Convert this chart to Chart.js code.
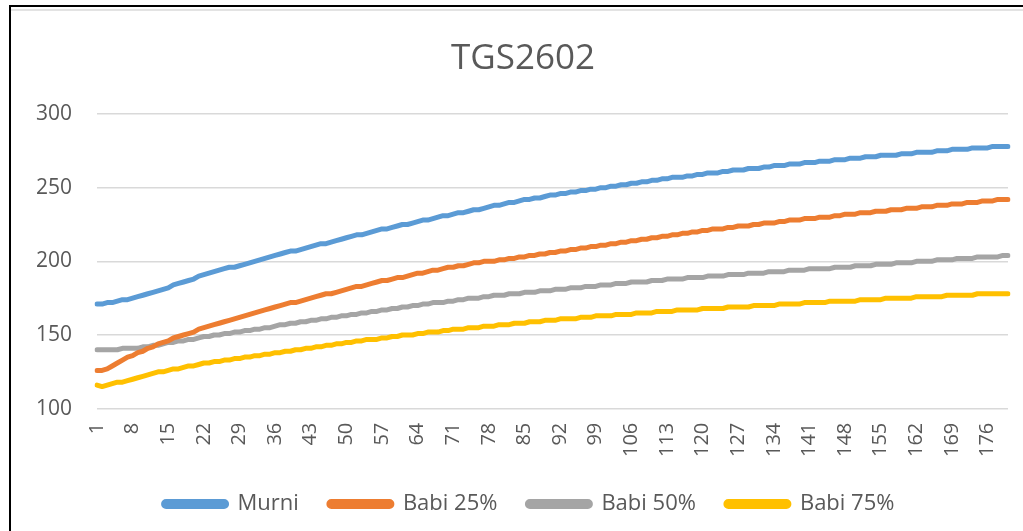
<!DOCTYPE html>
<html>
<head>
<meta charset="utf-8">
<script src="https://cdn.jsdelivr.net/npm/chart.js@4"></script>
<style>
  html, body { margin: 0; padding: 0; background: #fff; }
  #wrap { position: relative; width: 1023px; height: 531px; }
  #frame { position: absolute; left: 9px; top: 5px; right: 0; bottom: 0; border-left: 2px solid #000; border-top: 2px solid #000; pointer-events: none; }
  #frameIn { position: absolute; left: 11px; top: 9px; right: 0; height: 0; border-top: 2px solid #e3e3e3; pointer-events: none; }
</style>
</head>
<body>
<div id="wrap">
  <canvas id="tgsChart" width="1023" height="531"></canvas>
  <div id="frame"></div>
  <div id="frameIn"></div>
</div>
<script>
// Data (180 readings per sample)
const seriesNames = ['Murni', 'Babi 25%', 'Babi 50%', 'Babi 75%'];

const murni = [
  171,171,172,172,173,174,174,175,
  176,177,178,179,180,181,182,
  184,185,186,187,188,190,191,
  192,193,194,195,196,196,197,
  198,199,200,201,202,203,204,
  205,206,207,207,208,209,210,
  211,212,212,213,214,215,216,
  217,218,218,219,220,221,222,
  222,223,224,225,225,226,227,
  228,228,229,230,231,231,232,
  233,233,234,235,235,236,237,
  238,238,239,240,240,241,242,
  242,243,243,244,245,245,246,
  246,247,247,248,248,249,249,
  250,250,251,251,252,252,253,
  253,254,254,255,255,256,256,
  257,257,257,258,258,259,259,
  260,260,260,261,261,262,262,
  262,263,263,263,264,264,265,
  265,265,266,266,266,267,267,
  267,268,268,268,269,269,269,
  270,270,270,271,271,271,272,
  272,272,272,273,273,273,274,
  274,274,274,275,275,275,276,
  276,276,276,277,277,277,277,
  278,278,278,278
];

const babi25 = [
  126,126,127,129,131,133,135,136,
  138,139,141,142,144,145,146,
  148,149,150,151,152,154,155,
  156,157,158,159,160,161,162,
  163,164,165,166,167,168,169,
  170,171,172,172,173,174,175,
  176,177,178,178,179,180,181,
  182,183,183,184,185,186,187,
  187,188,189,189,190,191,192,
  192,193,194,194,195,196,196,
  197,197,198,199,199,200,200,
  200,201,201,202,202,203,203,
  204,204,205,205,206,206,207,
  207,208,208,209,209,210,210,
  211,211,212,212,213,213,214,
  214,215,215,216,216,217,217,
  218,218,219,219,220,220,221,
  221,222,222,222,223,223,224,
  224,224,225,225,226,226,226,
  227,227,228,228,228,229,229,
  229,230,230,230,231,231,232,
  232,232,233,233,233,234,234,
  234,235,235,235,236,236,236,
  237,237,237,238,238,238,239,
  239,239,240,240,240,241,241,
  241,242,242,242
];

const babi50 = [
  140,140,140,140,140,141,141,141,
  141,142,142,143,143,144,145,
  145,146,146,147,147,148,149,
  149,150,150,151,151,152,152,
  153,153,154,154,155,155,156,
  157,157,158,158,159,159,160,
  160,161,161,162,162,163,163,
  164,164,165,165,166,166,167,
  167,168,168,169,169,170,170,
  171,171,172,172,172,173,173,
  174,174,175,175,175,176,176,
  177,177,177,178,178,178,179,
  179,179,180,180,180,181,181,
  181,182,182,182,183,183,183,
  184,184,184,185,185,185,186,
  186,186,186,187,187,187,188,
  188,188,188,189,189,189,189,
  190,190,190,190,191,191,191,
  191,192,192,192,192,193,193,
  193,193,194,194,194,194,195,
  195,195,195,195,196,196,196,
  196,197,197,197,197,198,198,
  198,198,199,199,199,199,200,
  200,200,200,201,201,201,201,
  202,202,202,202,203,203,203,
  203,203,204,204
];

const babi75 = [
  116,115,116,117,118,118,119,120,
  121,122,123,124,125,125,126,
  127,127,128,129,129,130,131,
  131,132,132,133,133,134,134,
  135,135,136,136,137,137,138,
  138,139,139,140,140,141,141,
  142,142,143,143,144,144,145,
  145,146,146,147,147,147,148,
  148,149,149,150,150,150,151,
  151,152,152,152,153,153,154,
  154,154,155,155,155,156,156,
  156,157,157,157,158,158,158,
  159,159,159,160,160,160,161,
  161,161,161,162,162,162,163,
  163,163,163,164,164,164,164,
  165,165,165,165,166,166,166,
  166,167,167,167,167,167,168,
  168,168,168,168,169,169,169,
  169,169,170,170,170,170,170,
  171,171,171,171,171,172,172,
  172,172,172,173,173,173,173,
  173,173,174,174,174,174,174,
  175,175,175,175,175,175,176,
  176,176,176,176,176,177,177,
  177,177,177,177,178,178,178,
  178,178,178,178
];

// x categories 1..180, only every 7th one is labelled
const categories = murni.map((v, i) => String(i + 1));
const labelStep = 7;

const yMin = 100;
const yMax = 300;
const yStep = 50;

const colors = ['#5B9BD5', '#ED7D31', '#A5A5A5', '#FFC000'];
const textColor = '#595959';
const fontFamily = "'Open Sans', 'Liberation Sans', sans-serif";

const allSeries = [murni, babi25, babi50, babi75];

const datasets = allSeries.map((values, i) => ({
    label: seriesNames[i],
    data: values,
    borderColor: colors[i],
    backgroundColor: colors[i],
    borderWidth: 5,
    borderCapStyle: 'round',
    borderJoinStyle: 'round',
    pointRadius: 0,
    tension: 0,
    fill: false
}));

// nudge legend/title a bit right, the original centres them on the whole frame
const shiftBlocks = {
    id: 'shiftBlocks',
    afterLayout(chart) {
        chart.legend.left += 10;
        chart.legend.right += 10;
        chart.titleBlock.left += 4;
        chart.titleBlock.right += 4;
    }
};

const ctx = document.getElementById('tgsChart').getContext('2d');

new Chart(ctx, {
    type: 'line',
    data: { labels: categories, datasets: datasets },
    plugins: [shiftBlocks],
    options: {
        responsive: false,
        animation: false,
        layout: { padding: { left: 30, right: 15, top: 6, bottom: 6 } },
        plugins: {
            title: {
                display: true,
                text: 'TGS2602',
                color: textColor,
                font: { family: fontFamily, size: 35, weight: 'normal' },
                padding: { top: 32, bottom: 34 }
            },
            legend: {
                position: 'bottom',
                labels: {
                    color: textColor,
                    font: { family: fontFamily, size: 22 },
                    boxWidth: 63,
                    boxHeight: 5,
                    padding: 30,
                    useBorderRadius: true,
                    borderRadius: 2.5
                }
            },
            tooltip: { enabled: false }
        },
        scales: {
            x: {
                grid: { display: false },
                border: { display: false },
                ticks: {
                    color: textColor,
                    font: { family: fontFamily, size: 20 },
                    autoSkip: false,
                    maxRotation: 90,
                    minRotation: 90,
                    padding: 6,
                    callback: function (value, index) {
                        return index % labelStep === 0 ? this.getLabelForValue(value) : '';
                    }
                },
                afterFit: function (scale) {
                    // rotated labels reserve side room we don't want
                    scale.paddingLeft = 0;
                    scale.paddingRight = 0;
                }
            },
            y: {
                min: yMin,
                max: yMax,
                grid: { color: '#d9d9d9', lineWidth: 1.5, drawTicks: false },
                border: { display: false },
                ticks: {
                    stepSize: yStep,
                    color: textColor,
                    font: { family: fontFamily, size: 21 },
                    padding: 25
                },
                afterFit: function (scale) { scale.width = 67; }
            }
        }
    }
});
</script>
</body>
</html>
